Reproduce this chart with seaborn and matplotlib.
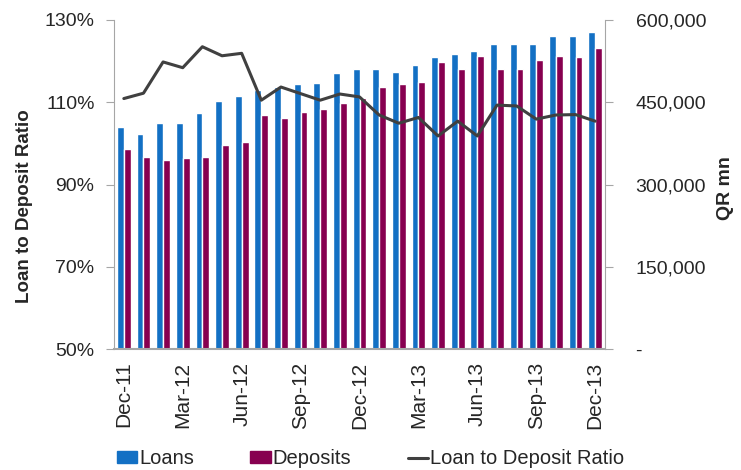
import numpy as np
import pandas as pd
import matplotlib
matplotlib.use('Agg')
import matplotlib.pyplot as plt
import seaborn as sns
from matplotlib.patches import Patch
from matplotlib.lines import Line2D
from matplotlib.ticker import FuncFormatter, FixedLocator

# Monthly data, Dec-11 to Dec-13 (QR mn and %)
months = ['Dec-11', 'Jan-12', 'Feb-12', 'Mar-12', 'Apr-12', 'May-12', 'Jun-12', 'Jul-12',
          'Aug-12', 'Sep-12', 'Oct-12', 'Nov-12', 'Dec-12', 'Jan-13', 'Feb-13', 'Mar-13',
          'Apr-13', 'May-13', 'Jun-13', 'Jul-13', 'Aug-13', 'Sep-13', 'Oct-13', 'Nov-13', 'Dec-13']
loans = [404900, 392100, 412200, 412200, 430400, 452300, 461400, 472300, 477800, 483300,
         485100, 503300, 510600, 510600, 505200, 517900, 532500, 538000, 543500, 556800,
         556800, 556800, 570800, 570800, 578100]
deposits = [364700, 350200, 344700, 348300, 350200, 372000, 377500, 426700, 421300, 432200,
            437700, 448600, 457800, 477800, 483300, 486900, 523400, 510600, 534300, 510600,
            510600, 527100, 534300, 532500, 548900]
ratio = [110.9, 112.2, 119.8, 118.4, 123.5, 121.3, 121.9, 110.5, 113.7, 112.1, 110.5, 112.0,
         111.3, 106.9, 104.9, 106.3, 101.8, 105.4, 101.8, 109.3, 109.1, 105.9, 106.9, 107.0, 105.4]

blue = '#1370C4'
maroon = '#870050'
grey_line = '#404040'
spine_col = '#A6A6A6'

sns.set_style('white')
plt.rcParams['font.family'] = ['Liberation Sans', 'DejaVu Sans']

df = pd.DataFrame({'month': months * 2,
                   'value': loans + deposits,
                   'series': ['Loans'] * len(months) + ['Deposits'] * len(months)})

fig = plt.figure(figsize=(7.41, 4.70), dpi=100)
ax = fig.add_axes([114 / 741, 1 - 349 / 470, (605 - 114) / 741, (349 - 20) / 470])

sns.barplot(data=df, x='month', y='value', hue='series', order=months,
            palette=[blue, maroon], width=0.7, saturation=1, ax=ax, legend=False)

# ratio line on a twin axis, drawn above the bars
ax2 = ax.twinx()
sns.lineplot(x=np.arange(len(months)), y=ratio, ax=ax2, color=grey_line, lw=2.2)

# bars use the right-hand axis, ratio uses the left
ax.yaxis.tick_right()
ax.yaxis.set_label_position('right')
ax.set_ylim(0, 600000)
ax.set_yticks([0, 150000, 300000, 450000, 600000])
ax.yaxis.set_major_formatter(FuncFormatter(lambda v, p: '-' if v == 0 else f'{v:,.0f}'))
ax.set_ylabel('QR mn', fontsize=14, fontweight='bold', labelpad=8)
ax.yaxis.label.set_y(0.49)
ax.set_xlabel('')

ax2.yaxis.tick_left()
ax2.yaxis.set_label_position('left')
ax2.set_ylim(50, 130)
ax2.set_yticks([50, 70, 90, 110, 130])
ax2.yaxis.set_major_formatter(FuncFormatter(lambda v, p: f'{v:.0f}%'))
ax2.set_ylabel('Loan to Deposit Ratio', fontsize=13.5, fontweight='bold', labelpad=8)
ax2.yaxis.label.set_y(0.435)

for a in (ax, ax2):
    a.set_xlim(-0.5, len(months) - 0.5)
    for s in a.spines.values():
        s.set_visible(False)

ax2.spines['left'].set_visible(True)
ax2.spines['left'].set_color(spine_col)
ax.spines['right'].set_visible(True)
ax.spines['right'].set_color(spine_col)
ax.spines['bottom'].set_visible(True)
ax.spines['bottom'].set_color(spine_col)
ax.spines['bottom'].set_linewidth(1.5)

# x labels every quarter, tick marks between categories
lab_pos = list(range(0, len(months), 3))
ax.xaxis.set_major_locator(FixedLocator(lab_pos))
ax.set_xticklabels([months[i] for i in lab_pos], rotation=90, fontsize=15)
ax.xaxis.set_minor_locator(FixedLocator([i - 0.5 for i in lab_pos]))
ax.tick_params(axis='x', which='major', length=0, pad=9)
ax.tick_params(axis='x', which='minor', length=6, color=spine_col, width=1.2, direction='out')
ax.tick_params(axis='y', which='major', length=6, color=spine_col, labelsize=14, pad=16,
               direction='out', right=True, left=False, labelright=True, labelleft=False)
ax2.tick_params(axis='y', which='major', length=6, color=spine_col, labelsize=14, pad=8,
                direction='out', left=True, right=False, labelleft=True, labelright=False)
ax2.tick_params(axis='x', bottom=False, labelbottom=False)

handles = [Patch(color=blue, label='Loans'),
           Patch(color=maroon, label='Deposits'),
           Line2D([0], [0], color=grey_line, lw=2.2, label='Loan to Deposit Ratio')]
fig.legend(handles=handles, loc='lower center', bbox_to_anchor=(0.5, -0.035), ncol=3,
           frameon=False, fontsize=14.5, handlelength=1.0, handleheight=0.55,
           handletextpad=0.1, columnspacing=2.8)

fig.savefig('out.png', dpi=100)
